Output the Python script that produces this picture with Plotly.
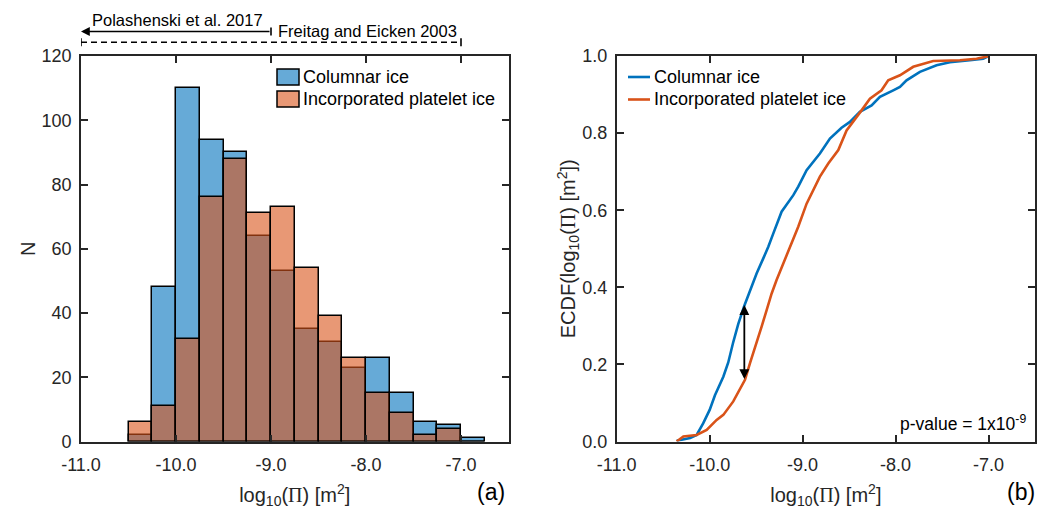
import plotly.graph_objects as go

# ---------------- data ----------------
bin_left = [-10.5, -10.25, -10.0, -9.75, -9.5, -9.25, -9.0, -8.75, -8.5,
            -8.25, -8.0, -7.75, -7.5, -7.25, -7.0]
bin_width = 0.25
columnar_counts = [2, 48, 110, 94, 90, 64, 53, 35, 31, 23, 26, 15, 6, 5, 1]
platelet_counts = [6, 11, 32, 76, 88, 71, 73, 54, 39, 26, 15, 9, 2, 4, 0]

col_ecdf_x = [-10.355, -10.21, -10.14, -10.07, -10.0, -9.943, -9.853, -9.80,
              -9.746, -9.692, -9.627, -9.566, -9.495, -9.423, -9.369, -9.315,
              -9.226, -9.100, -9.047, -8.957, -8.814, -8.706, -8.581, -8.491,
              -8.384, -8.258, -8.168, -8.025, -7.953, -7.882, -7.738, -7.559,
              -7.416, -7.201, -7.057, -7.0]
col_ecdf_y = [0.002, 0.009, 0.017, 0.047, 0.082, 0.120, 0.168, 0.205,
              0.258, 0.305, 0.352, 0.393, 0.436, 0.475, 0.505, 0.540,
              0.596, 0.639, 0.661, 0.704, 0.747, 0.786, 0.814, 0.829,
              0.855, 0.872, 0.894, 0.911, 0.920, 0.937, 0.959, 0.976,
              0.984, 0.989, 0.993, 1.0]
pla_ecdf_x = [-10.355, -10.283, -10.14, -10.032, -9.925, -9.853, -9.746, -9.674,
              -9.620, -9.566, -9.495, -9.441, -9.387, -9.333, -9.280, -9.208,
              -9.136, -9.047, -8.957, -8.885, -8.814, -8.724, -8.616, -8.527,
              -8.455, -8.366, -8.276, -8.151, -8.079, -7.953, -7.810, -7.595,
              -7.308, -7.129, -6.986]
pla_ecdf_y = [0.0, 0.013, 0.017, 0.030, 0.056, 0.069, 0.104, 0.134,
              0.160, 0.203, 0.255, 0.298, 0.341, 0.384, 0.419, 0.462,
              0.505, 0.557, 0.617, 0.652, 0.687, 0.721, 0.756, 0.807,
              0.829, 0.859, 0.889, 0.911, 0.937, 0.950, 0.972, 0.987,
              0.989, 0.993, 1.0]

x_ticks = [-11.0, -10.0, -9.0, -8.0, -7.0]
x_ticklabels = ["-11.0", "-10.0", "-9.0", "-8.0", "-7.0"]
n_ticks = [0, 20, 40, 60, 80, 100, 120]
ecdf_ticks = [0.0, 0.2, 0.4, 0.6, 0.8, 1.0]
ecdf_ticklabels = ["0.0", "0.2", "0.4", "0.6", "0.8", "1.0"]

ks_x = -9.627
ks_low, ks_high = 0.158, 0.354

series_names = ["Columnar ice", "Incorporated platelet ice"]
# ---------------------------------------

W, H = 1047, 515
FONT = "Liberation Sans, Arial, Helvetica, sans-serif"
AX = "#262626"
BLUE = "#0072BD"
ORANGE = "#D95319"
BLUE_F = "rgba(0,114,189,0.6)"
ORANGE_F = "rgba(217,83,25,0.6)"


def px(x):
    return x / W


def py(y):
    return 1 - y / H


fig = go.Figure()
centers = [b + bin_width / 2 for b in bin_left]
fig.add_trace(go.Bar(x=centers, y=columnar_counts, width=bin_width, name=series_names[0],
                     marker=dict(color=BLUE_F, line=dict(color="black", width=1.5)),
                     xaxis="x", yaxis="y", showlegend=False))
fig.add_trace(go.Bar(x=centers, y=platelet_counts, width=bin_width, name=series_names[1],
                     marker=dict(color=ORANGE_F, line=dict(color="black", width=1.5)),
                     xaxis="x", yaxis="y", showlegend=False))
fig.add_trace(go.Scatter(x=col_ecdf_x, y=col_ecdf_y, mode="lines", name=series_names[0],
                         line=dict(color=BLUE, width=2.6), xaxis="x2", yaxis="y2",
                         showlegend=False))
fig.add_trace(go.Scatter(x=pla_ecdf_x, y=pla_ecdf_y, mode="lines", name=series_names[1],
                         line=dict(color=ORANGE, width=2.6), xaxis="x2", yaxis="y2",
                         showlegend=False))

ydom = [1 - 441.5 / H, 1 - 56 / H]
common = dict(showline=True, linecolor=AX, linewidth=1.6, mirror="ticks",
              ticks="inside", ticklen=7, tickwidth=1.6, tickcolor=AX,
              showgrid=False, zeroline=False, automargin=False,
              tickfont=dict(family=FONT, size=18, color=AX))
xtitle = "log<sub>10</sub>(<span style='font-family:Liberation Serif'>Π</span>) [m<sup>2</sup>]"
TF = dict(size=20, color=AX)

fig.update_layout(
    width=W, height=H,
    margin=dict(l=0, r=0, t=0, b=0, autoexpand=False),
    paper_bgcolor="white", plot_bgcolor="white",
    barmode="overlay", bargap=0,
    font=dict(family=FONT, color=AX),
    xaxis=dict(domain=[81 / W, 508.5 / W], range=[-11, -6.5], anchor="y",
               tickvals=x_ticks, ticktext=x_ticklabels, ticklabelstandoff=6,
               title=dict(text=xtitle, font=TF, standoff=14), **common),
    yaxis=dict(domain=ydom, range=[0, 120], anchor="x", tickvals=n_ticks,
               ticklabelstandoff=4,
               title=dict(text="N", font=TF, standoff=1), **common),
    xaxis2=dict(domain=[616.7 / W, 1035 / W], range=[-11, -6.5], anchor="y2",
                tickvals=x_ticks, ticktext=x_ticklabels, ticklabelstandoff=6,
                title=dict(text=xtitle, font=TF, standoff=14), **common),
    yaxis2=dict(domain=ydom, range=[0, 1], anchor="x2", tickvals=ecdf_ticks,
                ticktext=ecdf_ticklabels, ticklabelstandoff=4,
                title=dict(text="ECDF(log<sub>10</sub>(<span style='font-family:Liberation Serif'>Π</span>) [m<sup>2</sup>])",
                           font=TF, standoff=1), **common),
)

shapes = []
annotations = []

# legend (a)
for i, (fc, name) in enumerate(zip([BLUE_F, ORANGE_F], series_names)):
    y0 = 69 + i * 22
    shapes.append(dict(type="rect", xref="paper", yref="paper",
                       x0=px(277), x1=px(299), y0=py(y0 + 16), y1=py(y0),
                       fillcolor=fc, line=dict(color="black", width=1.5)))
    annotations.append(dict(xref="paper", yref="paper", x=px(301), y=py(y0 + 8),
                            xanchor="left", yanchor="middle", showarrow=False,
                            text=name, font=dict(size=18, color="black")))
# legend (b)
for i, (lc, name) in enumerate(zip([BLUE, ORANGE], series_names)):
    yy = 77 + i * 22.5
    shapes.append(dict(type="line", xref="paper", yref="paper",
                       x0=px(628), x1=px(650), y0=py(yy), y1=py(yy),
                       line=dict(color=lc, width=2.6)))
    annotations.append(dict(xref="paper", yref="paper", x=px(652), y=py(yy),
                            xanchor="left", yanchor="middle", showarrow=False,
                            text=name, font=dict(size=18, color="black")))

# top range markers (panel a)
y_solid = py(31.5)
y_dash = py(42.3)
annotations.append(dict(xref="x", yref="paper", x=-11, y=y_solid, ax=-9, ay=0,
                        axref="x", ayref="pixel", showarrow=True, arrowhead=2,
                        arrowsize=1.1, arrowwidth=1.6, arrowcolor="black", text=""))
shapes.append(dict(type="line", xref="x", yref="paper", x0=-9, x1=-9,
                   y0=py(35.5), y1=py(27.5), line=dict(color="black", width=1.6)))
shapes.append(dict(type="line", xref="x", yref="paper", x0=-11, x1=-7,
                   y0=y_dash, y1=y_dash,
                   line=dict(color="black", width=1.6, dash="6px,4px")))
for xe in (-11, -7):
    shapes.append(dict(type="line", xref="x", yref="paper", x0=xe, x1=xe,
                       y0=py(46.3), y1=py(38.3), line=dict(color="black", width=1.6)))
annotations.append(dict(xref="x", yref="paper", x=-9.98, y=py(20), xanchor="center",
                        yanchor="middle", showarrow=False, text="Polashenski et al. 2017",
                        font=dict(size=16.5, color="black")))
annotations.append(dict(xref="x", yref="paper", x=-9, xshift=5, y=py(31), xanchor="left",
                        yanchor="middle", showarrow=False, text="Freitag and Eicken 2003",
                        font=dict(size=16.5, color="black")))

# KS arrow (panel b)
annotations.append(dict(xref="x2", yref="y2", x=ks_x, y=ks_high, ax=ks_x, ay=ks_low,
                        axref="x2", ayref="y2", showarrow=True, arrowhead=2,
                        arrowside="end+start", arrowsize=1.1, arrowwidth=1.8,
                        arrowcolor="black", text=""))
annotations.append(dict(xref="paper", yref="paper", x=px(1028), y=py(423), xanchor="right",
                        yanchor="middle", showarrow=False,
                        text="p-value = 1x10<sup>-9</sup>", font=dict(size=17.5, color="black")))

# panel labels
annotations.append(dict(xref="paper", yref="paper", x=px(491), y=py(492), xanchor="center",
                        yanchor="middle", showarrow=False, text="(a)",
                        font=dict(size=23, color="black")))
annotations.append(dict(xref="paper", yref="paper", x=px(1021), y=py(492), xanchor="center",
                        yanchor="middle", showarrow=False, text="(b)",
                        font=dict(size=23, color="black")))

fig.update_layout(shapes=shapes, annotations=annotations)
fig.write_html("out.html")
